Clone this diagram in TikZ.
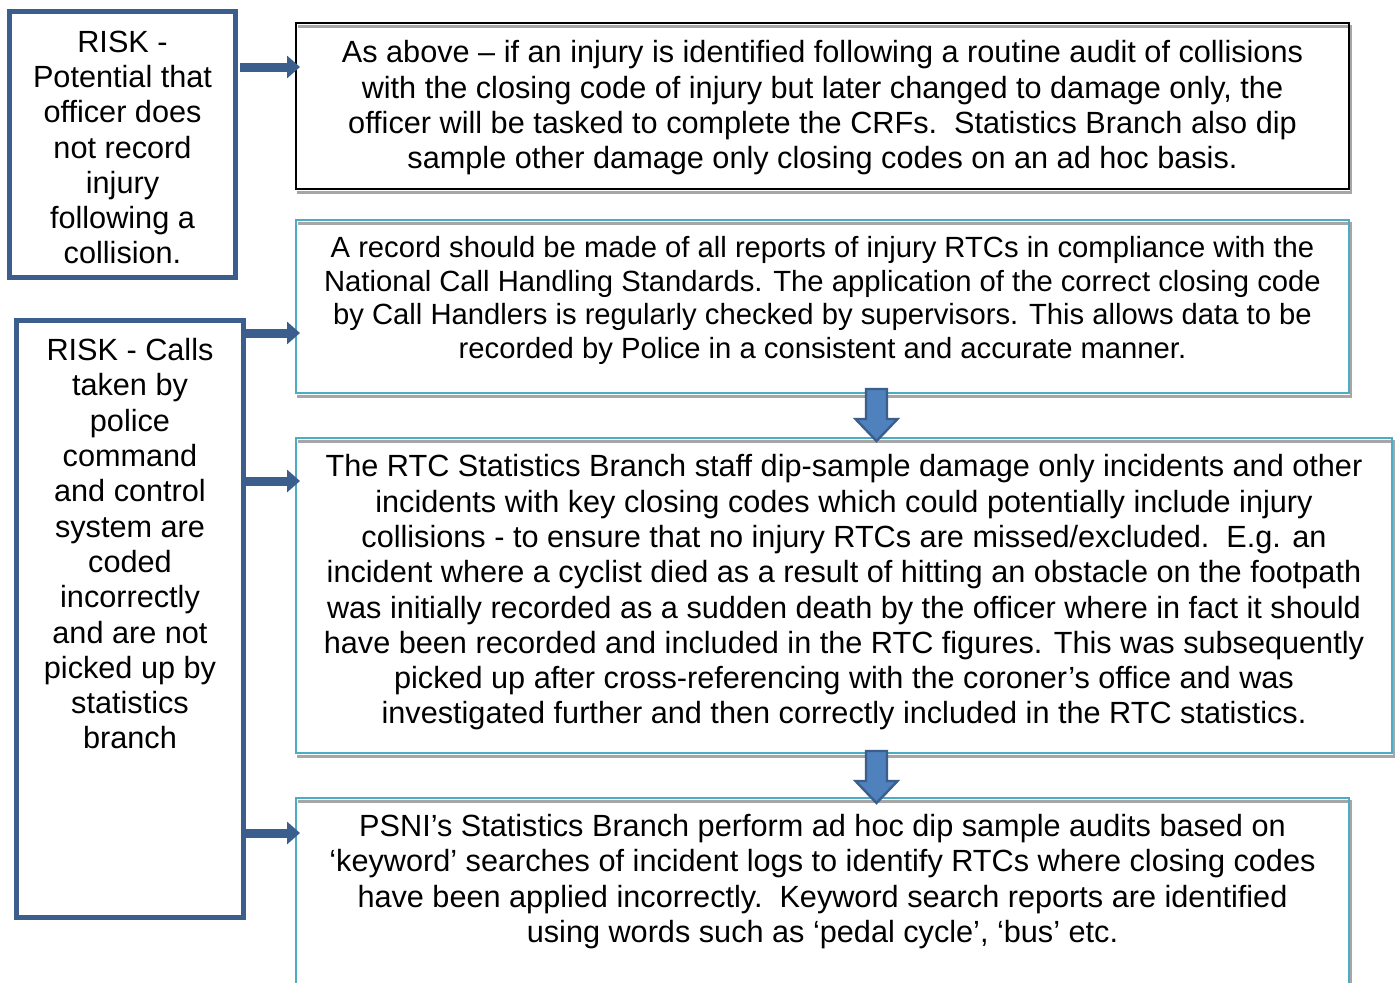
\documentclass[tikz,border=0pt]{standalone}
\usepackage{fontspec}
\setmainfont{Liberation Sans}
\usetikzlibrary{arrows.meta,calc}
\definecolor{riskblue}{HTML}{3B5E8C}
\definecolor{boxteal}{HTML}{4BACC6}
\definecolor{shadowgrey}{HTML}{A6A6A6}
\definecolor{arrowfill}{HTML}{4F81BD}
\newcommand{\fsA}{\fontsize{15.33pt}{17.65pt}\selectfont}
\newcommand{\fsB}{\fontsize{14.61pt}{16.9pt}\selectfont}
\begin{document}
\begin{tikzpicture}[x=0.5pt,y=-0.5pt,
  riskbox/.style={draw=riskblue, line width=2.5pt, fill=white, inner sep=0pt, outer sep=0pt},
  infobox/.style={draw=#1, line width=1pt, fill=white, inner sep=0pt, outer sep=0pt},
  shadowline/.style={draw=shadowgrey, line width=1.25pt},
  txt/.style={inner sep=0pt, align=center, font=\fsA},
  rarrow/.style={draw=riskblue, line width=4.5pt, -{Triangle[length=6.5pt,width=11pt]}},
  darrow/.style={draw=riskblue, line width=1.2pt, fill=arrowfill, line join=miter}
]
\useasboundingbox (0,0) rectangle (1396,982);
\fill[white] (0,0) rectangle (1396,982);

% left risk boxes
\node[riskbox, minimum width=113pt, minimum height=133pt] (L1) at (122.5,144.5) {};
\node[riskbox, minimum width=113.5pt, minimum height=298.5pt] (L2) at (130,619) {};

% right boxes
\node[infobox=black, minimum width=526.5pt, minimum height=83pt] (R1) at (822.5,106) {};
\node[infobox=boxteal, minimum width=526.5pt, minimum height=86.5pt] (R2) at (822.5,306.5) {};
\node[infobox=boxteal, minimum width=548pt, minimum height=157.5pt] (R3) at (844,595.5) {};
\node[infobox=boxteal, minimum width=526.5pt, minimum height=106pt] (R4) at (822.5,904) {};

% shadows
\foreach \b in {R1,R2,R3}{
  \draw[shadowline] ([shift={(2,3.5)}]\b.north west) -- ([shift={(2,3.5)}]\b.north east)
     -- ([shift={(2,3.5)}]\b.south east) -- ([shift={(1,3.5)}]\b.south west);
}
\draw[shadowline] ([shift={(2,3.5)}]R4.north west) -- ([shift={(2,3.5)}]R4.north east)
     -- ([shift={(2,3.5)}]R4.south east);
% borders again on top
\draw[black, line width=1pt] (R1.north west) rectangle (R1.south east);
\foreach \b in {R2,R3,R4}{
  \draw[boxteal, line width=1pt] (\b.north west) rectangle (\b.south east);
}

% texts
\node[txt] (T1) at (822.5,108) {As above -- if an injury is identified following a routine audit of collisions\\
with the closing code of injury but later changed to damage only, the\\
officer will be tasked to complete the CRFs.\ \ Statistics Branch also dip\\
sample other damage only closing codes on an ad hoc basis.};

\node[txt, font=\fsB] (T2) at (822.5,300.5) {A record should be made of all reports of injury RTCs in compliance with the\\
National Call Handling Standards. The application of the correct closing code\\
by Call Handlers is regularly checked by supervisors. This allows data to be\\
recorded by Police in a consistent and accurate manner.};

\node[txt] (T3) at (844,592.5) {The RTC Statistics Branch staff dip-sample damage only incidents and other\\
incidents with key closing codes which could potentially include injury\\
collisions - to ensure that no injury RTCs are missed/excluded.\ \ E.g. an\\
incident where a cyclist died as a result of hitting an obstacle on the footpath\\
was initially recorded as a sudden death by the officer where in fact it should\\
have been recorded and included in the RTC figures. This was subsequently\\
picked up after cross-referencing with the coroner’s office and was\\
investigated further and then correctly included in the RTC statistics.};

\node[txt, anchor=north] (T4) at (822.5,814) {PSNI’s Statistics Branch perform ad hoc dip sample audits based on\\
‘keyword’ searches of incident logs to identify RTCs where closing codes\\
have been applied incorrectly.\ \ Keyword search reports are identified\\
using words such as ‘pedal cycle’, ‘bus’ etc.};

\node[txt] (TL1) at (122.5,147.5) {RISK -\\Potential that\\officer does\\not record\\injury\\following a\\collision.};
\node[txt, anchor=north] (TL2) at (130,338) {RISK - Calls\\taken by\\police\\command\\and control\\system are\\coded\\incorrectly\\and are not\\picked up by\\statistics\\branch};

% right arrows
\coordinate (a1) at (L1.east |- 0,67);
\coordinate (a2) at (L2.east |- 0,333);
\coordinate (a3) at (L2.east |- 0,481);
\coordinate (a4) at (L2.east |- 0,833);
\draw[rarrow] ([xshift=2pt]a1) -- ([xshift=2pt]R1.west |- a1);
\draw[rarrow] (a2) -- ([xshift=2pt]R2.west |- a2);
\draw[rarrow] (a3) -- ([xshift=2pt]R3.west |- a3);
\draw[rarrow] (a4) -- ([xshift=2pt]R4.west |- a4);

% down arrows
\coordinate (d1) at (876.5,389);
\coordinate (d2) at (876.5,751);
\foreach \d in {d1,d2}{
  \draw[darrow] (\d) ++(-10.5,0) -- ++(21,0) -- ++(0,30) -- ++(10.5,0) -- ++(-21,22)
     -- ++(-21,-22) -- ++(10.5,0) -- cycle;
}
\end{tikzpicture}
\end{document}
